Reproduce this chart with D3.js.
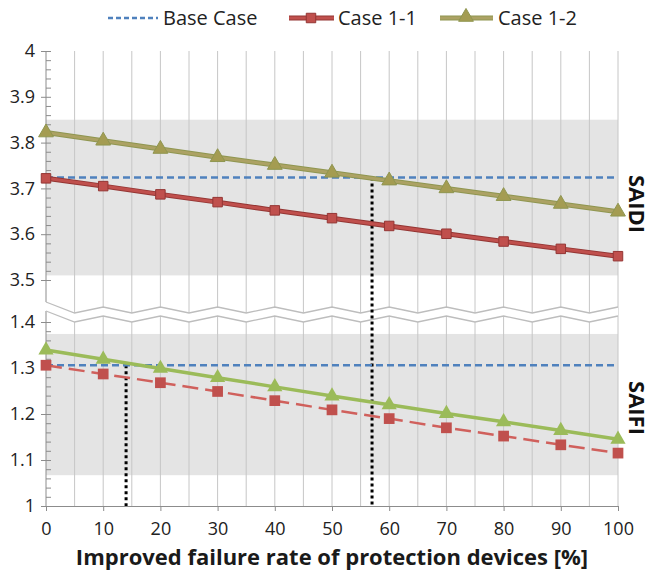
<!DOCTYPE html>
<html>
<head>
<meta charset="utf-8">
<script src="https://cdn.jsdelivr.net/npm/d3@7"></script>
<style>
  body { margin: 0; background: #fff; }
  svg { font-family: "Open Sans", sans-serif; }
</style>
</head>
<body>
<svg width="654" height="573"></svg>
<script>
// improved failure rate [%]
var rates = [0, 10, 20, 30, 40, 50, 60, 70, 80, 90, 100];

// SAIDI (upper panel)
var saidiBase = 3.724;
var saidiCase11 = [3.722, 3.705, 3.687, 3.670, 3.652, 3.635, 3.618, 3.601, 3.584, 3.568, 3.552];
var saidiCase12 = [3.822, 3.804, 3.786, 3.768, 3.751, 3.734, 3.717, 3.700, 3.683, 3.666, 3.649];

// SAIFI (lower panel)
var saifiBase = 1.306;
var saifiCase11 = [1.306, 1.287, 1.268, 1.249, 1.229, 1.209, 1.190, 1.170, 1.152, 1.133, 1.115];
var saifiCase12 = [1.339, 1.319, 1.299, 1.279, 1.259, 1.239, 1.220, 1.201, 1.183, 1.164, 1.145];

var topTicks = [3.5, 3.6, 3.7, 3.8, 3.9, 4];
var botTicks = [1, 1.1, 1.2, 1.3, 1.4];
var xTicks = [0, 10, 20, 30, 40, 50, 60, 70, 80, 90, 100];

// crossing points marked with dotted lines
var markX = [57, 14];

var svg = d3.select("svg");

var x = d3.scaleLinear().domain([0, 100]).range([46, 618]);
var yTop = d3.scaleLinear().domain([3.5, 4]).range([280, 51]);
var yBot = d3.scaleLinear().domain([1, 1.4]).range([506, 322]);

// gray bands
svg.append("rect").attr("x", x(0)).attr("width", x(100) - x(0))
  .attr("y", yTop(3.85)).attr("height", yTop(3.51) - yTop(3.85))
  .attr("fill", "#e4e4e4");
svg.append("rect").attr("x", x(0)).attr("width", x(100) - x(0))
  .attr("y", yBot(1.374)).attr("height", yBot(1.067) - yBot(1.374))
  .attr("fill", "#e4e4e4");

// vertical grid every 5
svg.append("g").selectAll("line")
  .data(d3.range(5, 101, 5))
  .enter().append("line")
  .attr("x1", function(d) { return x(d); })
  .attr("x2", function(d) { return x(d); })
  .attr("y1", yTop(4)).attr("y2", yBot(1))
  .attr("stroke", "#c6c6c6").attr("stroke-width", 1);

// y axis line
svg.append("line").attr("x1", x(0)).attr("x2", x(0))
  .attr("y1", yTop(4)).attr("y2", yBot(1))
  .attr("stroke", "#8c8c8c");

// axis break (zigzag)
var upper = [], lower = [];
for (var k = 0; k <= 20; k++) {
  var off = k === 0 ? 0 : (k % 2 ? 11 : 5);
  upper.push([x(k * 5), 302 + off]);
  lower.push([x(k * 5), 311 + off]);
}
var brk = svg.append("g");
brk.append("path")
  .attr("d", "M" + [[x(0) - 3, 302]].concat(upper).map(function(p) { return p.join(","); }).join("L") +
    "L" + lower.slice().reverse().concat([[x(0) - 3, 311]]).map(function(p) { return p.join(","); }).join("L") + "Z")
  .attr("fill", "#fff");
var zz = d3.line();
brk.append("path").attr("d", zz(upper)).attr("fill", "none").attr("stroke", "#bdbdbd").attr("stroke-width", 1.3);
brk.append("path").attr("d", zz(lower)).attr("fill", "none").attr("stroke", "#bdbdbd").attr("stroke-width", 1.3);

// y axes (major labels + minor ticks)
function minor(a, b) {
  return d3.range(0, Math.round((b - a) / 0.02) + 1).map(function(i) { return +(a + i * 0.02).toFixed(2); });
}
function yAxis(scale, ticks, lo, hi) {
  var g = svg.append("g").attr("transform", "translate(" + x(0) + ",0)");
  g.call(d3.axisLeft(scale).tickValues(ticks).tickSizeInner(5).tickSizeOuter(0).tickPadding(6).tickFormat(d3.format("")));
  g.append("g").call(d3.axisRight(scale).tickValues(minor(lo, hi)).tickSizeInner(5).tickSizeOuter(0).tickFormat(""));
  g.selectAll(".domain").remove();
  g.selectAll("line").attr("stroke", "#8c8c8c");
  g.selectAll("text").attr("font-size", 18).attr("fill", "#222").attr("font-family", "Open Sans");
}
yAxis(yTop, topTicks, 3.5, 4);
yAxis(yBot, botTicks, 1, 1.4);

// x axis
var gx = svg.append("g").attr("transform", "translate(0," + yBot(1) + ")")
  .call(d3.axisBottom(x).tickValues(xTicks).tickSizeInner(5).tickSizeOuter(0).tickPadding(11));
gx.select(".domain").attr("stroke", "#8c8c8c");
gx.selectAll("line").attr("stroke", "#8c8c8c");
gx.selectAll("text").attr("font-size", 18).attr("fill", "#222").attr("font-family", "Open Sans");

svg.append("text")
  .attr("x", 332).attr("y", 565)
  .attr("text-anchor", "middle")
  .attr("font-size", 22).attr("font-weight", "bold").attr("fill", "#1a1a1a")
  .text("Improved failure rate of protection devices [%]");

// dotted markers
svg.append("line").attr("x1", x(markX[0])).attr("x2", x(markX[0]))
  .attr("y1", yTop(saidiBase)).attr("y2", yBot(1))
  .attr("stroke", "#000").attr("stroke-width", 3).attr("stroke-dasharray", "3,3");
svg.append("line").attr("x1", x(markX[1])).attr("x2", x(markX[1]))
  .attr("y1", yBot(saifiBase)).attr("y2", yBot(1))
  .attr("stroke", "#000").attr("stroke-width", 3).attr("stroke-dasharray", "3,3");

// base case lines
[[yTop, saidiBase], [yBot, saifiBase]].forEach(function(b) {
  svg.append("line").attr("x1", x(0)).attr("x2", x(100))
    .attr("y1", b[0](b[1])).attr("y2", b[0](b[1]))
    .attr("stroke", "#4f81bd").attr("stroke-width", 2.5).attr("stroke-dasharray", "7,4");
});

function series(scale, vals, opt) {
  var line = d3.line().x(function(d, i) { return x(rates[i]); }).y(function(d) { return scale(d); });
  var g = svg.append("g");
  if (opt.outline) {
    g.append("path").attr("d", line(vals)).attr("fill", "none")
      .attr("stroke", opt.outline).attr("stroke-width", opt.width + 2);
  }
  g.append("path").attr("d", line(vals)).attr("fill", "none")
    .attr("stroke", opt.color).attr("stroke-width", opt.width)
    .attr("stroke-dasharray", opt.dash || null);
  var sym = d3.symbol().type(opt.shape === "square" ? d3.symbolSquare : d3.symbolTriangle).size(opt.size);
  g.selectAll("path.m").data(vals).enter().append("path").attr("class", "m")
    .attr("d", sym)
    .attr("transform", function(d, i) { return "translate(" + x(rates[i]) + "," + scale(d) + ")"; })
    .attr("fill", opt.fill).attr("stroke", opt.mstroke || "none").attr("stroke-width", 1);
}

series(yTop, saidiCase12, { color: "#aca264", outline: "#8f9650", width: 3, shape: "tri", size: 95, fill: "#a49c52", mstroke: "#8f9650" });
series(yTop, saidiCase11, { color: "#c0504d", outline: "#943634", width: 3, shape: "square", size: 90, fill: "#c0504d", mstroke: "#943634" });
series(yBot, saifiCase12, { color: "#9bbb59", width: 3.5, shape: "tri", size: 100, fill: "#9bbb59" });
series(yBot, saifiCase11, { color: "#d0605c", width: 2.5, dash: "16,7", shape: "square", size: 115, fill: "#c0504d" });

// panel labels
[["SAIDI", 204], ["SAIFI", 408]].forEach(function(p) {
  svg.append("text")
    .attr("transform", "translate(629," + p[1] + ") rotate(90)")
    .attr("text-anchor", "middle")
    .attr("font-size", 22).attr("font-weight", "bold").attr("fill", "#111")
    .text(p[0]);
});

// legend
var lg = svg.append("g").attr("font-size", 20).attr("fill", "#222");
lg.append("line").attr("x1", 108).attr("x2", 158).attr("y1", 18).attr("y2", 18)
  .attr("stroke", "#4f81bd").attr("stroke-width", 2.5).attr("stroke-dasharray", "5,3");
lg.append("text").attr("x", 163).attr("y", 25).text("Base Case");
lg.append("line").attr("x1", 289).attr("x2", 334).attr("y1", 18).attr("y2", 18)
  .attr("stroke", "#943634").attr("stroke-width", 5);
lg.append("line").attr("x1", 289).attr("x2", 334).attr("y1", 18).attr("y2", 18)
  .attr("stroke", "#c0504d").attr("stroke-width", 3);
lg.append("path").attr("d", d3.symbol().type(d3.symbolSquare).size(90))
  .attr("transform", "translate(311,18)").attr("fill", "#c0504d").attr("stroke", "#943634");
lg.append("text").attr("x", 338).attr("y", 25).text("Case 1-1");
lg.append("line").attr("x1", 440).attr("x2", 493).attr("y1", 18).attr("y2", 18)
  .attr("stroke", "#8f9650").attr("stroke-width", 5);
lg.append("line").attr("x1", 440).attr("x2", 493).attr("y1", 18).attr("y2", 18)
  .attr("stroke", "#aca264").attr("stroke-width", 3);
lg.append("path").attr("d", d3.symbol().type(d3.symbolTriangle).size(95))
  .attr("transform", "translate(466,17)").attr("fill", "#a49c52").attr("stroke", "#8f9650");
lg.append("text").attr("x", 498).attr("y", 25).text("Case 1-2");
</script>
</body>
</html>
